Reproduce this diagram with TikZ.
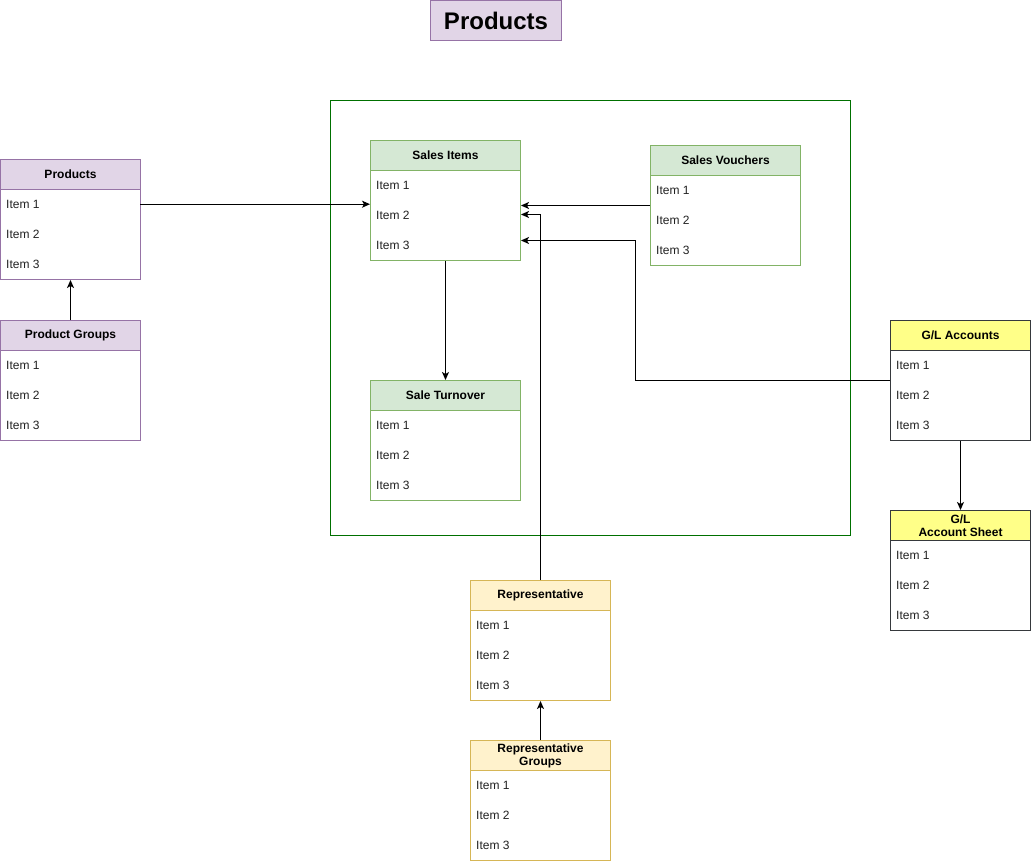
\documentclass[tikz,border=0pt]{standalone}
\usepackage{fontspec}
\setmainfont{Liberation Sans}
\usetikzlibrary{arrows.meta}
\definecolor{purpF}{HTML}{E1D5E7}
\definecolor{purpD}{HTML}{9673A6}
\definecolor{greenF}{HTML}{D5E8D4}
\definecolor{greenD}{HTML}{82B366}
\definecolor{yelF}{HTML}{FFFF88}
\definecolor{yelD}{HTML}{36393D}
\definecolor{orgF}{HTML}{FFF2CC}
\definecolor{orgD}{HTML}{D6B656}
\definecolor{contD}{HTML}{007000}
\definecolor{itemC}{HTML}{222222}
\tikzset{
  tabbox/.style={draw, line width=1pt, fill=white, minimum height=120pt, inner sep=0pt},
  hdr/.style={line width=1pt, minimum height=30pt, inner sep=0pt, align=center,
    font=\fontsize{12}{13}\selectfont\bfseries},
  rowbox/.style={minimum height=30pt, inner sep=0pt},
  itemtxt/.style={inner sep=0pt, text=itemC, font=\fontsize{12}{14}\selectfont},
  arr/.style={line width=1pt, -{Stealth[length=8pt,width=7pt,inset=2pt]}},
}
\newcommand\umltab[7]{% name, x, y, w, title, fill, draw
  \node[tabbox, draw=#7, minimum width=#4pt, anchor=north west] (#1) at (#2,#3) {};
  \node[hdr, fill=#6, draw=#7, minimum width=#4pt, anchor=north west] (#1-h) at (#2,#3) {#5};
  \foreach \i in {1,2,3} {
    \node[rowbox, minimum width=#4pt, anchor=north west] (#1-\i) at (#2,#3+30*\i) {};
    \node[itemtxt, anchor=west] at ([xshift=6pt]#1-\i.west) {Item \i};
  }
}
\begin{document}
\begin{tikzpicture}[x=1pt,y=-1pt]
\useasboundingbox (0,0) rectangle (1031,861);
% title
\node[draw=purpD, fill=purpF, line width=1pt, minimum width=131pt, minimum height=40pt,
  anchor=north west, inner sep=0pt, font=\fontsize{24}{26}\selectfont\bfseries] (title) at (430,0) {Products};
% container
\node[draw=contD, line width=1pt, minimum width=520pt, minimum height=435pt, anchor=north west, inner sep=0pt] (cont) at (330,100) {};
% tables
\umltab{products}{0}{159}{140}{Products}{purpF}{purpD}
\umltab{pgroups}{0}{320}{140}{Product Groups}{purpF}{purpD}
\umltab{sitems}{370}{140}{150}{Sales Items}{greenF}{greenD}
\umltab{vouch}{650}{145}{150}{Sales Vouchers}{greenF}{greenD}
\umltab{turn}{370}{380}{150}{Sale Turnover}{greenF}{greenD}
\umltab{gl}{890}{320}{140}{G/L Accounts}{yelF}{yelD}
\umltab{glsheet}{890}{510}{140}{G/L\\Account Sheet}{yelF}{yelD}
\umltab{rep}{470}{580}{140}{Representative}{orgF}{orgD}
\umltab{repg}{470}{740}{140}{Representative\\Groups}{orgF}{orgD}
% connectors
\draw[arr] (products-1.east) -- (products-1.east -| sitems.west);
\draw[arr] (pgroups.north) -- (products.south);
\draw[arr] (sitems.south) -- (turn.north);
\draw[arr] (vouch.west) -- (vouch.west -| sitems.east);
\draw[arr] (rep.north) |- ([yshift=-14pt]sitems.east);
\draw[arr] (gl.west) -- ++(-255,0) |- ([yshift=-40pt]sitems.east);
\draw[arr] (gl.south) -- (glsheet.north);
\draw[arr] (repg.north) -- (rep.south);
\end{tikzpicture}
\end{document}
